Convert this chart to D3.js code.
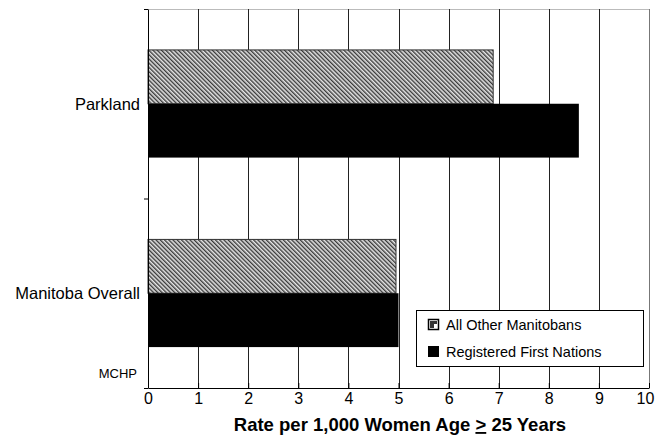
<!DOCTYPE html>
<html><head><meta charset="utf-8">
<script src="https://cdn.jsdelivr.net/npm/d3@7"></script>
<style>body{margin:0;background:#fff}svg{display:block;font-family:Arial,"Liberation Sans",sans-serif}</style>
</head><body>
<script>
const categories = ["Parkland", "Manitoba Overall"];
const seriesNames = ["All Other Manitobans", "Registered First Nations"];
const allOther = [6.89, 4.95];
const firstNations = [8.6, 5.0];
const xTicks = [0,1,2,3,4,5,6,7,8,9,10];

const W = 655, H = 437;
const m = {left:148, right:6, top:9, bottom:49};
const svg = d3.select("body").append("svg").attr("width", W).attr("height", H);

const defs = svg.append("defs");
const pat = defs.append("pattern").attr("id","hatch").attr("patternUnits","userSpaceOnUse")
  .attr("width",3).attr("height",3).attr("patternTransform","rotate(-45)");
pat.append("rect").attr("width",3).attr("height",3).attr("fill","#e6e6e6");
pat.append("rect").attr("x",0).attr("width",1.4).attr("height",3).attr("fill","#3a3a3a");

const x = d3.scaleLinear().domain([0,10]).range([m.left, W - m.right]);
const y = d3.scaleBand().domain(categories).range([m.top, H - m.bottom]).paddingInner(0).paddingOuter(0);
const inner = d3.scaleBand().domain(seriesNames).range([0, y.bandwidth()]).paddingInner(0).paddingOuter(0.76);

// top border
svg.append("line").attr("x1", x(0)).attr("x2", x(10)).attr("y1", m.top+0.5).attr("y2", m.top+0.5).attr("stroke","#bbb");
// gridlines
svg.append("g").selectAll("line").data(xTicks.slice(1)).join("line")
  .attr("x1", d=>Math.round(x(d))+0.5).attr("x2", d=>Math.round(x(d))+0.5)
  .attr("y1", m.top).attr("y2", H - m.bottom)
  .attr("stroke", d=> d===10 ? "#777" : "#222").attr("stroke-width",1);

const series = [allOther, firstNations];
const fills = ["url(#hatch)", "#000"];
series.forEach((vals, si) => {
  svg.append("g").selectAll("rect").data(categories).join("rect")
    .attr("x", x(0)).attr("y", (c)=> y(c) + inner(seriesNames[si]))
    .attr("width", (c,i)=> x(vals[i]) - x(0)).attr("height", inner.bandwidth())
    .attr("fill", fills[si]).attr("stroke", si===0 ? "#333" : "none").attr("stroke-width", 1);
});

// x axis
const xAxis = d3.axisBottom(x).tickValues(xTicks).tickSize(5).tickSizeOuter(0).tickFormat(d3.format("d"));
const gx = svg.append("g").attr("transform", `translate(0,${H - m.bottom})`).call(xAxis);
gx.selectAll("text").attr("font-size", 16).attr("fill","#000").attr("font-family","Arial, Liberation Sans, sans-serif").attr("dy","0.5em");
gx.selectAll(".tick").filter(d => d === 10).select("text").attr("dx", -4);
gx.selectAll("line, path").attr("stroke","#000");
gx.selectAll(".tick line").attr("y1", -5).attr("y2", 0);

// y axis
const yAxis = d3.axisLeft(y).tickSize(0).tickPadding(8);
const gy = svg.append("g").attr("transform", `translate(${m.left},0)`).call(yAxis);
gy.select("path").attr("stroke","#000");
gy.selectAll("text").attr("font-size", 16.5).attr("fill","#000").attr("font-family","Arial, Liberation Sans, sans-serif")
  .attr("dy","0.35em");
// category boundary ticks
svg.append("g").selectAll("line").data([m.top, y(categories[1]), H - m.bottom]).join("line")
  .attr("x1", m.left-4).attr("x2", m.left).attr("y1", d=>d+0.5).attr("y2", d=>d+0.5).attr("stroke","#000");

// x label
const xl = svg.append("text").attr("x", 400).attr("y", 431).attr("text-anchor","middle")
  .attr("font-size", 18.5).attr("font-weight","bold").attr("fill","#000");
xl.append("tspan").text("Rate per 1,000 Women Age ");
xl.append("tspan").attr("text-decoration","underline").style("text-decoration","underline").text(">");
xl.append("tspan").text(" 25 Years");

// MCHP
svg.append("text").attr("x", 137).attr("y", 378).attr("text-anchor","end").attr("font-size", 13).attr("fill","#000").text("MCHP");

// legend
const lg = svg.append("g");
lg.append("rect").attr("x", 416.5).attr("y", 310.5).attr("width", 227).attr("height", 56)
  .attr("fill","#fff").attr("stroke","#000");
seriesNames.forEach((s, i) => {
  const yy = 325 + i*27;
  if (i === 0) {
    lg.append("rect").attr("x", 428.5).attr("y", yy-5.5).attr("width", 10).attr("height", 10)
      .attr("fill", "#fff").attr("stroke","#000").attr("stroke-width", 1.5);
    lg.append("rect").attr("x", 430).attr("y", yy-4).attr("width", 4).attr("height", 7).attr("fill", "#333");
    lg.append("rect").attr("x", 430).attr("y", yy-4).attr("width", 7).attr("height", 3).attr("fill", "#333");
  } else {
    lg.append("rect").attr("x", 428).attr("y", yy-6).attr("width", 11).attr("height", 11).attr("fill", "#000");
  }
  lg.append("text").attr("x", 446).attr("y", yy).attr("dy","0.35em").attr("font-size", 14.5).attr("fill","#000").text(s);
});
</script>
</body></html>
